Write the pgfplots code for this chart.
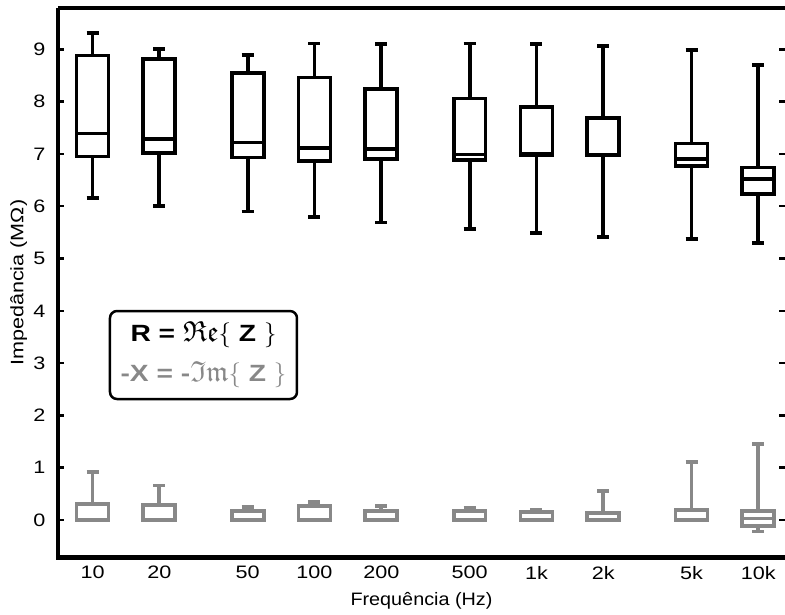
\documentclass[border=0pt]{standalone}
\usepackage{pgfplots}
\pgfplotsset{compat=1.18}
\usepgfplotslibrary{statistics}
\usepackage{amssymb}
\usepackage{fontspec}
\setmainfont{Liberation Sans}[FakeStretch=1.2]
\newfontfamily\xlfont{Liberation Sans}[FakeStretch=1.1]
\definecolor{cgray}{RGB}{136,136,136}
\newcommand{\bigfrak}[1]{{\fontsize{29}{30}\selectfont$\mathfrak{#1}$}}
\begin{document}
\begin{tikzpicture}
\begin{axis}[
  scale only axis,
  width=727pt, height=549.7pt,
  xmin=0.8445, xmax=4.12,
  ymin=-0.72, ymax=9.79,
  axis line style={draw=none},
  xtick={1,1.30103,1.69897,2,2.30103,2.69897,3,3.30103,3.69897,4},
  xticklabels={10,20,50,100,200,500,1k,2k,5k,10k},
  ytick={0,1,2,3,4,5,6,7,8,9},
  ytick pos=both,
  tick align=inside,
  xtick style={draw=none},
  ytick style={line width=2.5pt, black},
  major tick length=6pt,
  /pgf/number format/assume math mode=true,
  tick label style={font=\fontsize{18}{21}\selectfont},
  yticklabel style={xshift=-9pt},
  xticklabel style={yshift=-5pt},
  xlabel={Frequência (Hz)},
  ylabel={Impedância (MΩ)},
  xlabel style={font=\xlfont\fontsize{18}{21}\selectfont, at={(axis description cs:0.5,-0.0873)}, anchor=base},
  ylabel style={font=\fontsize{18}{21}\selectfont, at={(axis description cs:-0.0477,0.5)}, anchor=base, rotate=0},
  clip=false,
  boxplot/draw direction=y,
]
% R = Re{Z}
\addplot[black, line width=3.8pt, boxplot prepared={draw position=1,       lower whisker=6.16, lower quartile=6.95, median=7.39, upper quartile=8.88, upper whisker=9.31, box extend=0.144, whisker extend=0.054}] coordinates {};
\addplot[black, line width=3.8pt, boxplot prepared={draw position=1.30103, lower whisker=6.01, lower quartile=7.01, median=7.28, upper quartile=8.81, upper whisker=9.00, box extend=0.144, whisker extend=0.054}] coordinates {};
\addplot[black, line width=3.8pt, boxplot prepared={draw position=1.69897, lower whisker=5.90, lower quartile=6.93, median=7.22, upper quartile=8.55, upper whisker=8.89, box extend=0.144, whisker extend=0.054}] coordinates {};
\addplot[black, line width=3.8pt, boxplot prepared={draw position=2,       lower whisker=5.79, lower quartile=6.86, median=7.12, upper quartile=8.46, upper whisker=9.11, box extend=0.144, whisker extend=0.054}] coordinates {};
\addplot[black, line width=3.8pt, boxplot prepared={draw position=2.30103, lower whisker=5.69, lower quartile=6.90, median=7.09, upper quartile=8.24, upper whisker=9.10, box extend=0.144, whisker extend=0.054}] coordinates {};
\addplot[black, line width=3.8pt, boxplot prepared={draw position=2.69897, lower whisker=5.56, lower quartile=6.88, median=6.99, upper quartile=8.06, upper whisker=9.11, box extend=0.144, whisker extend=0.054}] coordinates {};
\addplot[black, line width=3.8pt, boxplot prepared={draw position=3,       lower whisker=5.49, lower quartile=6.97, median=7.00, upper quartile=7.89, upper whisker=9.10, box extend=0.144, whisker extend=0.054}] coordinates {};
\addplot[black, line width=3.8pt, boxplot prepared={draw position=3.30103, lower whisker=5.41, lower quartile=6.97, median=6.99, upper quartile=7.68, upper whisker=9.06, box extend=0.144, whisker extend=0.054}] coordinates {};
\addplot[black, line width=3.8pt, boxplot prepared={draw position=3.69897, lower whisker=5.37, lower quartile=6.77, median=6.90, upper quartile=7.20, upper whisker=8.99, box extend=0.144, whisker extend=0.054}] coordinates {};
\addplot[black, line width=3.8pt, boxplot prepared={draw position=4,       lower whisker=5.29, lower quartile=6.23, median=6.52, upper quartile=6.74, upper whisker=8.70, box extend=0.144, whisker extend=0.054}] coordinates {};
% -X = -Im{Z}
\addplot[cgray, line width=3.8pt, boxplot prepared={draw position=1,       lower whisker=0, lower quartile=0, median=0.01, upper quartile=0.31, upper whisker=0.92, box extend=0.144, whisker extend=0.054}] coordinates {};
\addplot[cgray, line width=3.8pt, boxplot prepared={draw position=1.30103, lower whisker=0, lower quartile=0, median=0.01, upper quartile=0.29, upper whisker=0.66, box extend=0.144, whisker extend=0.054}] coordinates {};
\addplot[cgray, line width=3.8pt, boxplot prepared={draw position=1.69897, lower whisker=0, lower quartile=0, median=0.01, upper quartile=0.18, upper whisker=0.25, box extend=0.144, whisker extend=0.054}] coordinates {};
\addplot[cgray, line width=3.8pt, boxplot prepared={draw position=2,       lower whisker=0, lower quartile=0, median=0.01, upper quartile=0.27, upper whisker=0.34, box extend=0.144, whisker extend=0.054}] coordinates {};
\addplot[cgray, line width=3.8pt, boxplot prepared={draw position=2.30103, lower whisker=0, lower quartile=0, median=0.01, upper quartile=0.17, upper whisker=0.27, box extend=0.144, whisker extend=0.054}] coordinates {};
\addplot[cgray, line width=3.8pt, boxplot prepared={draw position=2.69897, lower whisker=0, lower quartile=0, median=0.01, upper quartile=0.17, upper whisker=0.24, box extend=0.144, whisker extend=0.054}] coordinates {};
\addplot[cgray, line width=3.8pt, boxplot prepared={draw position=3,       lower whisker=0, lower quartile=0, median=0.01, upper quartile=0.15, upper whisker=0.19, box extend=0.144, whisker extend=0.054}] coordinates {};
\addplot[cgray, line width=3.8pt, boxplot prepared={draw position=3.30103, lower whisker=0, lower quartile=0, median=0.01, upper quartile=0.13, upper whisker=0.56, box extend=0.144, whisker extend=0.054}] coordinates {};
\addplot[cgray, line width=3.8pt, boxplot prepared={draw position=3.69897, lower whisker=0, lower quartile=0, median=0.01, upper quartile=0.19, upper whisker=1.11, box extend=0.144, whisker extend=0.054}] coordinates {};
\addplot[cgray, line width=3.8pt, boxplot prepared={draw position=4,       lower whisker=-0.22, lower quartile=-0.11, median=0.03, upper quartile=0.17, upper whisker=1.45, box extend=0.144, whisker extend=0.054}] coordinates {};
% frame
\draw[line width=4.5pt] (rel axis cs:0,1) -- (rel axis cs:0,0) -- (rel axis cs:1,0);
\draw[line width=4pt] (rel axis cs:0,1) -- (rel axis cs:1,1);
% legend box
\node[draw=black, line width=2.5pt, rounded corners=7pt, align=center, inner xsep=1pt, inner ysep=4pt,
      font=\fontsize{23.5}{40}\selectfont, minimum width=187pt, minimum height=88pt]
  at (axis cs:1.5,3.155)
  {\textbf{R = }\bigfrak{Re}$\{$ \textbf{Z} $\}$\\[0pt]
   \textcolor{cgray}{\textbf{-X = -}\bigfrak{Im}$\{$ \textbf{Z} $\}$}};
\coordinate (sw) at (rel axis cs:0,0);
\coordinate (ne) at (rel axis cs:1,1);
\end{axis}
\pgfresetboundingbox
\path[use as bounding box] ([xshift=-58pt,yshift=-57.3pt]sw) rectangle ([yshift=8pt]ne);
\end{tikzpicture}
\end{document}
